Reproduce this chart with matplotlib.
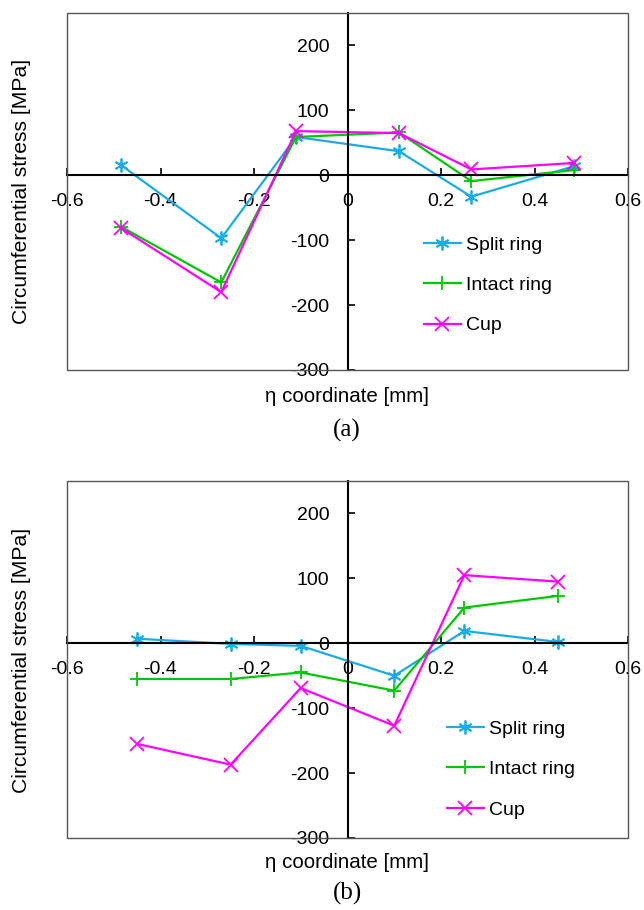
import matplotlib
matplotlib.use("Agg")
import matplotlib.pyplot as plt
from matplotlib.patches import Rectangle
from matplotlib.ticker import FixedLocator, FuncFormatter

plt.rcParams["font.family"] = ["Liberation Sans", "DejaVu Sans"]
plt.rcParams["axes.unicode_minus"] = False

# ---- data: panel (a) ----
eta_a = [-0.485, -0.27, -0.11, 0.11, 0.265, 0.485]
split_a = [16, -97, 59, 37, -33, 14]
intact_a = [-79, -165, 59, 66, -9, 8]
cup_a = [-81, -180, 68, 65, 9, 19]

# ---- data: panel (b) ----
eta_b = [-0.45, -0.25, -0.10, 0.10, 0.25, 0.45]
split_b = [7, -1, -4, -50, 19, 2]
intact_b = [-55, -55, -45, -73, 55, 73]
cup_b = [-155, -187, -69, -127, 105, 95]

series_names = ["Split ring", "Intact ring", "Cup"]
colors = ["#18ACE8", "#00C800", "#FF00FF"]
markers = [(6, 2, 0), "+", "x"]

x_ticks = [-0.6, -0.4, -0.2, 0, 0.2, 0.4, 0.6]
y_ticks = [-300, -200, -100, 0, 100, 200]

W, H = 644, 910
fig = plt.figure(figsize=(W / 100, H / 100), dpi=100)


def px_rect(left, top, right, bottom):
    return [left / W, 1 - bottom / H, (right - left) / W, (bottom - top) / H]


def draw_panel(rect, eta, series, leg_anchor, label_y, tag_y, ylab_y, tag):
    ax = fig.add_axes(rect)
    for vals, name, c, m in zip(series, series_names, colors, markers):
        ax.plot(eta, vals, color=c, lw=1.6, marker=m, markersize=10,
                markeredgewidth=1.3, label=name, zorder=3)
    ax.set_xlim(-0.6, 0.6)
    ax.set_ylim(-300, 250)

    # axes crossing at the origin
    for s in ("top", "right"):
        ax.spines[s].set_visible(False)
    ax.spines["left"].set_position("zero")
    ax.spines["bottom"].set_position("zero")
    for s in ("left", "bottom"):
        ax.spines[s].set_linewidth(1.5)
        ax.spines[s].set_color("black")
        ax.spines[s].set_zorder(4)
    ax.add_patch(Rectangle((0, 0), 1, 1, transform=ax.transAxes, fill=False,
                           edgecolor="#555555", lw=1.0, clip_on=False, zorder=5))

    ax.xaxis.set_major_locator(FixedLocator(x_ticks))
    ax.yaxis.set_major_locator(FixedLocator(y_ticks))
    ax.xaxis.set_major_formatter(FuncFormatter(lambda v, p: f"{v:g}"))
    ax.yaxis.set_major_formatter(FuncFormatter(lambda v, p: f"{v:g}"))
    ax.tick_params(axis="both", direction="in", length=5, width=1.2,
                   labelsize=14, pad=13, color="black")

    ax.legend(loc="upper left", bbox_to_anchor=leg_anchor, frameon=False,
              fontsize=14, handlelength=1.9, handletextpad=0.25,
              labelspacing=1.17, borderpad=0, borderaxespad=0)

    fig.text(347 / W, 1 - label_y / H, "η coordinate [mm]", ha="center",
             va="center", fontsize=14.8)
    fig.text(347 / W, 1 - tag_y / H, tag, ha="center", va="center",
             fontsize=18, family=["Liberation Serif", "DejaVu Serif"])
    fig.text(22 / W, 1 - ylab_y / H, "Circumferential stress [MPa]",
             rotation=90, ha="center", va="center", fontsize=15.2)
    return ax


draw_panel(px_rect(67, 13, 628, 370), eta_a, [split_a, intact_a, cup_a],
           (0.636, 0.375), 397, 430, 191, "(a)")
draw_panel(px_rect(67, 481, 628, 838), eta_b, [split_b, intact_b, cup_b],
           (0.677, 0.330), 863, 893, 660, "(b)")

fig.savefig("out.png", dpi=100)
